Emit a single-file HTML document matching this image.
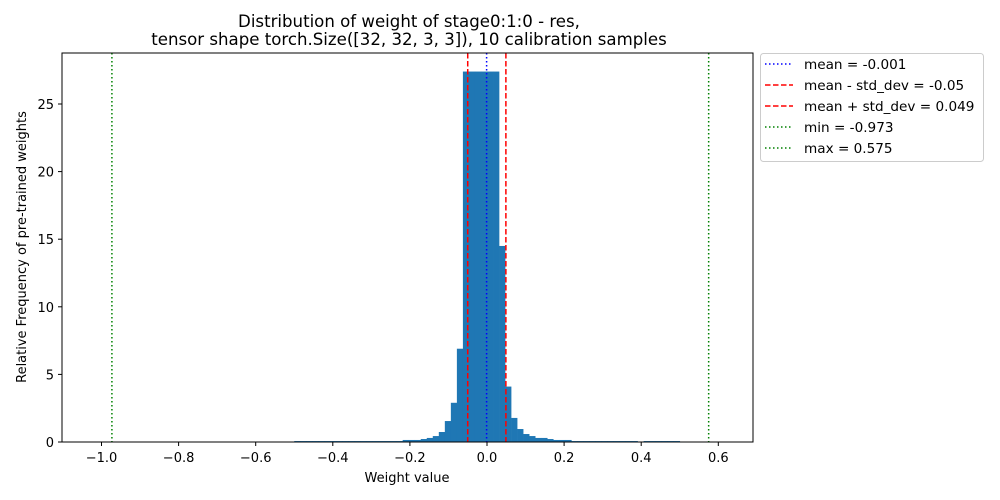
<!DOCTYPE html>
<html><head><meta charset="utf-8"><style>
html,body{margin:0;padding:0;background:#fff;}
svg{display:block;font-family:"DejaVu Sans","Liberation Sans",sans-serif;}
</style></head><body>
<svg id="chart" width="1000" height="500" xmlns="http://www.w3.org/2000/svg">
<text x="409" y="27" font-size="16.6" text-anchor="middle">Distribution of weight of stage0:1:0 - res,</text>
<text x="409" y="45" font-size="16.6" text-anchor="middle">tensor shape torch.Size([32, 32, 3, 3]), 10 calibration samples</text>
<g id="bars"></g>
<g id="vlines"></g>
<rect x="62" y="53" width="691" height="389" fill="none" stroke="#000" stroke-width="1"/>
<g id="xticks"></g>
<g id="yticks"></g>
<text x="407" y="482" font-size="13" text-anchor="middle">Weight value</text>
<text transform="translate(26,247) rotate(-90)" font-size="13" text-anchor="middle">Relative Frequency of pre-trained weights</text>
<g id="legend">
<rect x="760.5" y="53.5" width="223" height="108" rx="3" fill="#fff" stroke="#ccc"/>
</g>
</svg>
<script>
const binStart = -0.5;
const binWidth = 1/64;
const binHeights = [0.07,0.07,0.07,0.07,0.07,0.07,0.07,0.07,0.07,0.07,0.07,0.07,0.07,0.07,0.07,0.07,0.07,0.07,
 0.15,0.15,0.15,0.22,0.3,0.44,0.74,1.55,2.9,6.9,
 27.4,27.4,27.4,27.4,27.4,27.4,14.5,4.1,1.78,0.96,0.59,0.44,0.3,0.3,0.22,0.15,0.15,0.15,
 0.07,0.07,0.07,0.07,0.07,0.07,0.07,0.07,0.07,0.07,0.07,0.03,0.07,0.07,0.07,0.07,0.07,0.07];
const xTicks = [-1.0,-0.8,-0.6,-0.4,-0.2,0.0,0.2,0.4,0.6];
const yTicks = [0,5,10,15,20,25];
const lineValues = [-0.001,-0.05,0.049,-0.973,0.575];
const lineLabels = ["mean = -0.001","mean - std_dev = -0.05","mean + std_dev = 0.049","min = -0.973","max = 0.575"];
const lineColors = ["blue","red","red","green","green"];
const lineDash = ["1.5,2.5","5.5,2.5","5.5,2.5","1.5,2.5","1.5,2.5"];

const X = v => 487 + v*385.5;
const Y = v => 442 - v*13.52;
const NS = "http://www.w3.org/2000/svg";
function mk(tag, attrs, parent){const e=document.createElementNS(NS,tag);for(const k in attrs)e.setAttribute(k,attrs[k]);parent.appendChild(e);return e;}

const bars=document.getElementById('bars');
binHeights.forEach((h,i)=>{
  const x0=X(binStart+i*binWidth), x1=X(binStart+(i+1)*binWidth);
  const r=mk('rect',{x:x0,y:Y(h),width:x1-x0+0.3,height:442-Y(h),fill:'#1f77b4'},bars);
  
  
});
const vl=document.getElementById('vlines');
lineValues.forEach((v,i)=>{
  const l=mk('line',{x1:X(v),x2:X(v),y1:53,y2:442,stroke:lineColors[i],'stroke-width':1.5,'stroke-dasharray':lineDash[i]},vl);
  
  
});
const xt=document.getElementById('xticks');
xTicks.forEach(v=>{
  mk('line',{x1:X(v),x2:X(v),y1:442,y2:446,stroke:'#000'},xt);
  const t=mk('text',{x:X(v),y:462,'font-size':13,'text-anchor':'middle'},xt);
  t.textContent=(v<0?'\u2212':'')+Math.abs(v).toFixed(1);
  
  
});
const yt=document.getElementById('yticks');
yTicks.forEach(v=>{
  mk('line',{x1:58,x2:62,y1:Y(v),y2:Y(v),stroke:'#000'},yt);
  const t=mk('text',{x:54,y:Y(v)+5,'font-size':13,'text-anchor':'end'},yt);
  t.textContent=v;
  
  
});
const lg=document.getElementById('legend');
lineLabels.forEach((s,i)=>{
  const y=64+i*21;
  const l=mk('line',{x1:765,x2:793,y1:y,y2:y,stroke:lineColors[i],'stroke-width':1.5,'stroke-dasharray':lineDash[i]},lg);
  
  
  const t=mk('text',{x:804,y:y+5,'font-size':13.6},lg);
  t.textContent=s;
  
  
});
</script>
</body></html>
